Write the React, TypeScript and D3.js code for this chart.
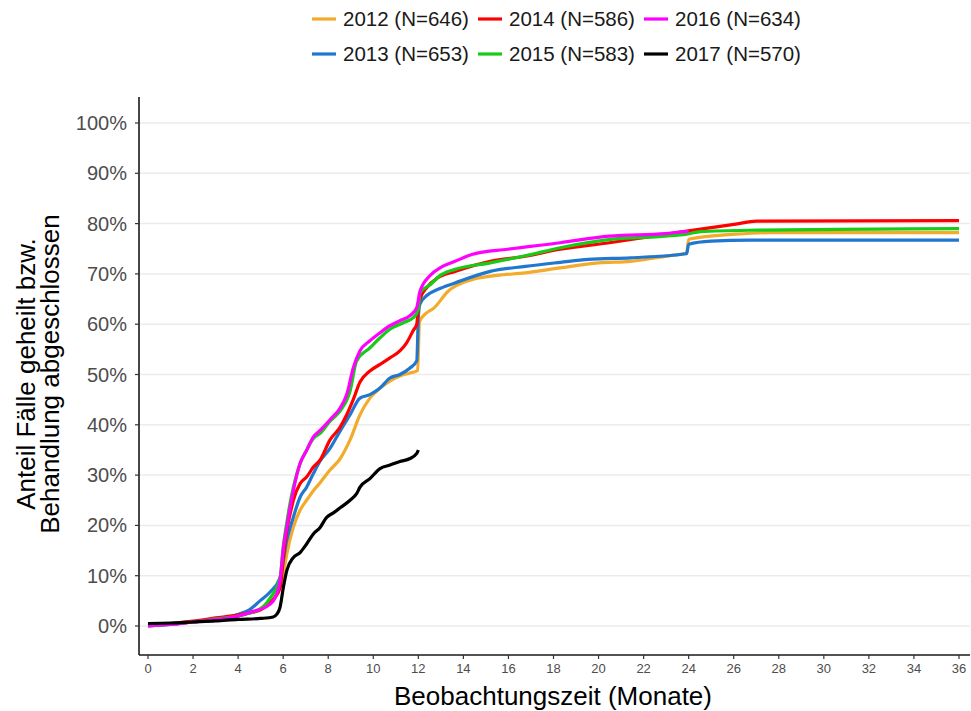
import * as d3 from "d3";

// Kaplan-Meier-like curves: [month, percent]
const s2012: [number, number][] = [
  [0, 0.2], [1, 0.4], [2, 0.8], [3, 1.2], [4, 2.0], [4.5, 2.6], [5, 3.5], [5.41, 5.0],
  [5.86, 7.7], [6.01, 10.5], [6.16, 14.3], [6.45, 19.6], [6.75, 23], [7.04, 25],
  [7.34, 26.9], [7.64, 28.5], [8.08, 31], [8.52, 33.2], [8.97, 37], [9.41, 42],
  [9.85, 45.3], [10.3, 47.3], [10.74, 48.7], [11.18, 49.7], [11.63, 50.3], [11.97, 50.8],
  [12.05, 60.5], [12.3, 62], [12.69, 63.2], [13.31, 66.5], [14.41, 68.9], [15.5, 69.7],
  [16.75, 70.2], [18.3, 71.2], [20, 72.2], [21.42, 72.5], [22.97, 73.5], [23.91, 74.2],
  [24.0, 76.9], [26.09, 77.9], [27.65, 78.2], [36, 78.2],
];
const s2013: [number, number][] = [
  [0, 0], [1, 0.3], [2, 0.8], [3, 1.3], [4, 2.3], [4.5, 3.2], [4.97, 5], [5.41, 6.7],
  [5.86, 9.6], [6.16, 17], [6.45, 21.6], [6.75, 25.6], [7.04, 27.6], [7.34, 30.3],
  [7.64, 32.8], [8.08, 35.3], [8.52, 38.7], [8.97, 42], [9.41, 45.3], [9.85, 46],
  [10.3, 47.3], [10.74, 49.3], [11.18, 50], [11.63, 51.3], [11.93, 52.7], [12.0, 61.3],
  [12.07, 64], [12.4, 65.8], [12.85, 66.9], [13.63, 68.2], [15.19, 70.5], [16.75, 71.5],
  [18.3, 72.3], [19.55, 72.9], [21.42, 73.2], [23.91, 74.0], [24.0, 75.9], [25.0, 76.5],
  [26.71, 76.7], [36, 76.7],
];
const s2014: [number, number][] = [
  [0, 0.2], [1, 0.5], [2, 1.0], [3, 1.6], [4, 2.2], [4.5, 2.6], [5, 3.2], [5.41, 4.6],
  [5.86, 7.5], [6.01, 13.6], [6.16, 19], [6.31, 22.3], [6.45, 25], [6.75, 28.3],
  [7.04, 29.6], [7.34, 31.6], [7.64, 33], [8.08, 37], [8.52, 39.5], [8.82, 42],
  [9.11, 45], [9.41, 48.5], [9.85, 50.7], [10.3, 52], [10.74, 53.3], [11.18, 54.7],
  [11.48, 56.3], [11.78, 58.8], [11.93, 60], [12.0, 63.3], [12.07, 65], [12.4, 67.4],
  [12.85, 69.2], [13.63, 70.5], [15.19, 72.5], [16.75, 73.5], [18.3, 74.9], [20.48, 76.2],
  [22, 77.2], [23.91, 78.5], [24.53, 78.9], [26.09, 79.9], [27.02, 80.5], [36, 80.6],
];
const s2015: [number, number][] = [
  [0, 0], [1, 0.3], [2, 0.8], [3, 1.4], [4, 2.0], [4.5, 2.6], [5, 3.4], [5.41, 5.5],
  [5.86, 9.5], [6.01, 16], [6.16, 20.5], [6.31, 24.5], [6.45, 27.5], [6.75, 32.3],
  [7.04, 35], [7.34, 37.3], [7.64, 38.3], [8.08, 40.7], [8.52, 42.7], [8.97, 46.7],
  [9.26, 52.7], [9.85, 55.3], [10.3, 57.3], [10.74, 59], [11.33, 60.3], [11.78, 61.3],
  [12.0, 63], [12.07, 66.2], [12.54, 67.9], [13.0, 69.8], [13.63, 70.9], [15.19, 72.2],
  [16.75, 73.6], [18.3, 75.2], [20.63, 76.9], [22.97, 77.5], [23.91, 77.9], [24.53, 78.4],
  [27.02, 78.7], [32.3, 78.9], [36, 79.0],
];
const s2016: [number, number][] = [
  [0, 0], [1, 0.3], [2, 0.8], [3, 1.3], [4, 2.0], [4.53, 2.7], [5.41, 4.3], [5.71, 6.3],
  [5.86, 9.0], [6.01, 15.6], [6.16, 19.6], [6.31, 23.6], [6.45, 26.9], [6.75, 32.3],
  [7.04, 34.9], [7.34, 37.6], [7.64, 38.9], [8.08, 41], [8.52, 43.3], [8.82, 46],
  [9.11, 51.3], [9.41, 54.7], [9.85, 56.7], [10.3, 58.3], [10.74, 59.7], [11.18, 60.7],
  [11.63, 61.7], [11.93, 63.3], [12.07, 66.5], [12.5, 69.6], [13.0, 71.3], [13.63, 72.5],
  [14.41, 73.9], [15.97, 74.9], [18.3, 76.2], [20.48, 77.5], [22.97, 78.0], [23.91, 78.4],
  [24.0, 78.4],
];
const s2017: [number, number][] = [
  [0, 0.5], [1, 0.6], [2, 0.8], [3, 1.0], [4, 1.3], [5, 1.5], [5.56, 1.8], [5.71, 2.3],
  [5.86, 3.7], [6.01, 7.7], [6.16, 11], [6.45, 13.6], [6.75, 14.6], [7.04, 16.3],
  [7.34, 18.3], [7.64, 19.6], [7.93, 21.6], [8.23, 22.5], [8.53, 23.5], [8.97, 25],
  [9.26, 26.3], [9.41, 27.6], [9.85, 29.3], [10.3, 31.3], [10.74, 32], [11.18, 32.7],
  [11.63, 33.3], [11.93, 34.3], [12.0, 35],
];

const seriesLabels = [
  "2012 (N=646)", "2013 (N=653)", "2014 (N=586)",
  "2015 (N=583)", "2016 (N=634)", "2017 (N=570)",
];
const seriesColors = ["#F2AB2B", "#1F77D0", "#FF0000", "#16CC16", "#FF00FF", "#000000"];
const seriesData = [s2012, s2013, s2014, s2015, s2016, s2017];

const xTicks = d3.range(0, 37, 2);
const yTicks = d3.range(0, 101, 10);

const FONT = "'Liberation Sans', Arial, sans-serif";

export default function App() {
  const width = 971;
  const height = 711;
  const left = 139;
  const right = 970;
  const top = 97;
  const bottom = 655;

  const x = d3.scaleLinear().domain([0, 36]).range([148, 959]);
  const y = d3.scaleLinear().domain([0, 100]).range([626, 123]);

  const line = d3
    .line<[number, number]>()
    .x((d) => x(d[0]))
    .y((d) => y(d[1]))
    .curve(d3.curveMonotoneX);

  // legend is laid out in 3 columns x 2 rows (column-major, like ggplot)
  const legendCols = [312, 478, 644];
  const legendRows = [19, 54];

  return (
    <svg
      width={width}
      height={height}
      style={{ position: "absolute", left: 0, top: 0, background: "#fff" }}
      fontFamily={FONT}
    >
      {/* grid */}
      {yTicks.map((t) => (
        <line
          key={"g" + t}
          x1={left}
          x2={right}
          y1={y(t)}
          y2={y(t)}
          stroke="#EBEBEB"
          strokeWidth={1.5}
        />
      ))}

      {/* series */}
      {seriesData.map((s, i) => (
        <path
          key={seriesLabels[i]}
          d={line(s) ?? ""}
          fill="none"
          stroke={seriesColors[i]}
          strokeWidth={3.2}
          strokeLinejoin="round"
        />
      ))}

      {/* axes */}
      <line x1={left} x2={left} y1={top} y2={bottom} stroke="#1a1a1a" strokeWidth={1.6} />
      <line x1={left} x2={right} y1={bottom} y2={bottom} stroke="#1a1a1a" strokeWidth={1.6} />

      {yTicks.map((t) => (
        <g key={"y" + t}>
          <line x1={left - 4} x2={left} y1={y(t)} y2={y(t)} stroke="#333" strokeWidth={1.2} />
          <text
            x={left - 12}
            y={y(t)}
            dy="0.35em"
            textAnchor="end"
            fontSize={20}
            fill="#4D4D4D"
          >
            {t}%
          </text>
        </g>
      ))}

      {xTicks.map((t) => (
        <g key={"x" + t}>
          <line x1={x(t)} x2={x(t)} y1={bottom} y2={bottom + 4} stroke="#333" strokeWidth={1.2} />
          <text x={x(t)} y={bottom + 18} textAnchor="middle" fontSize={13} fill="#4D4D4D">
            {t}
          </text>
        </g>
      ))}

      {/* axis titles */}
      <text x={553} y={705} textAnchor="middle" fontSize={26} fill="#000">
        Beobachtungszeit (Monate)
      </text>
      <g transform="translate(0, 374) rotate(-90)">
        <text x={0} y={35} textAnchor="middle" fontSize={26} fill="#000">
          Anteil Fälle geheilt bzw.
        </text>
        <text x={0} y={59} textAnchor="middle" fontSize={26} fill="#000">
          Behandlung abgeschlossen
        </text>
      </g>

      {/* legend */}
      {seriesLabels.map((label, i) => {
        const cx = legendCols[Math.floor(i / 2)];
        const cy = legendRows[i % 2];
        return (
          <g key={"l" + label}>
            <line x1={cx} x2={cx + 24} y1={cy} y2={cy} stroke={seriesColors[i]} strokeWidth={3.2} />
            <text x={cx + 31} y={cy} dy="0.36em" fontSize={20.5} fill="#1a1a1a">
              {label}
            </text>
          </g>
        );
      })}
    </svg>
  );
}
